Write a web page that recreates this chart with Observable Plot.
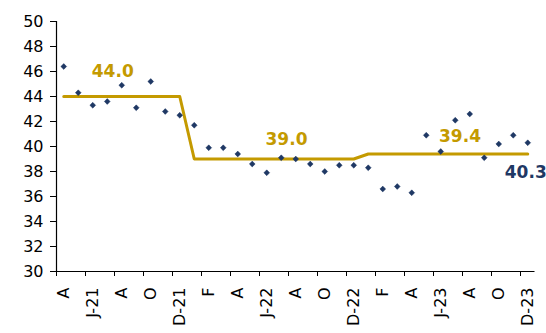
<!DOCTYPE html>
<html>
<head>
<meta charset="utf-8">
<script src="https://cdn.jsdelivr.net/npm/d3@7"></script>
<script src="https://cdn.jsdelivr.net/npm/@observablehq/plot@0.6"></script>
<style>
  html, body { margin: 0; padding: 0; background: #fff; }
</style>
</head>
<body>
<div id="chart"></div>
<script>
// Months from Apr 2021 to Dec 2023
const months = [
  "2021-04","2021-05","2021-06","2021-07","2021-08","2021-09","2021-10","2021-11","2021-12",
  "2022-01","2022-02","2022-03","2022-04","2022-05","2022-06","2022-07","2022-08","2022-09","2022-10","2022-11","2022-12",
  "2023-01","2023-02","2023-03","2023-04","2023-05","2023-06","2023-07","2023-08","2023-09","2023-10","2023-11","2023-12"
];
// Monthly values (diamond markers)
const values = [
  46.4, 44.3, 43.3, 43.6, 44.9, 43.1, 45.2, 42.8, 42.5,
  41.7, 39.9, 39.9, 39.4, 38.6, 37.9, 39.1, 39.0, 38.6, 38.0, 38.5, 38.5,
  38.3, 36.6, 36.8, 36.3, 40.9, 39.6, 42.1, 42.6, 39.1, 40.2, 40.9, 40.3
];
// Annual averages (gold step line)
const years = ["2021", "2022", "2023"];
const yearAvg = [44.0, 39.0, 39.4];
// Category-axis labels (every second month)
const tickLabels = ["A","J-21","A","O","D-21","F","A","J-22","A","O","D-22","F","A","J-23","A","O","D-23"];
const yTicks = [30, 32, 34, 36, 38, 40, 42, 44, 46, 48, 50];

const gold = "#C49A00";
const navy = "#1F3864";

const data = months.map((m, i) => ({
  i,
  month: m,
  value: values[i],
  avg: yearAvg[years.indexOf(m.slice(0, 4))]
}));
const yearIdx = years.map(y => {
  const idx = data.filter(d => d.month.startsWith(y)).map(d => d.i);
  return (idx[0] + idx[idx.length - 1]) / 2;
});
const n = months.length;

const chart = Plot.plot({
  width: 546,
  height: 333,
  marginLeft: 56,
  marginRight: 11.5,
  marginTop: 21,
  marginBottom: 62,
  style: { fontFamily: "DejaVu Sans, Verdana, sans-serif", fontSize: "16px", color: "#000", background: "#fff", overflow: "visible" },
  x: { type: "linear", domain: [-0.5, n - 0.5], axis: null, label: null },
  y: { domain: [30, 50], axis: null, label: null },
  marks: [
    Plot.axisY({ ticks: yTicks, tickSize: 6, tickPadding: 7, stroke: "#000", fill: "#000", fontSize: 16, label: null }),
    Plot.ruleX([-0.5], { stroke: "#000", strokeWidth: 1.2 }),
    Plot.ruleY([30], { stroke: "#000", strokeWidth: 1.2 }),
    Plot.axisX({ ticks: d3.range(-0.5, n - 1, 2), tickSize: 5, tickFormat: () => "", stroke: "#000", label: null }),
    Plot.axisX({ ticks: d3.range(0, n, 2), tickSize: 0, tickPadding: 16, tickRotate: -90,
                 tickFormat: d => tickLabels[d / 2], fill: "#000", fontSize: 16, label: null }),
    Plot.line(data, { x: "i", y: "avg", stroke: gold, strokeWidth: 3 }),
    Plot.dot(data, { x: "i", y: "value", symbol: "diamond2", r: 2.6, fill: navy, stroke: navy, strokeWidth: 0.5 }),
    Plot.text([0], { x: () => yearIdx[0], y: () => yearAvg[0], text: () => yearAvg[0].toFixed(1),
                     fill: gold, fontWeight: "bold", fontSize: 17, dx: -9, dy: -25 }),
    Plot.text([1], { x: () => yearIdx[1], y: () => yearAvg[1], text: () => yearAvg[1].toFixed(1),
                     fill: gold, fontWeight: "bold", fontSize: 17, dx: 12.5, dy: -19.5 }),
    Plot.text([2], { x: () => yearIdx[2], y: () => yearAvg[2], text: () => yearAvg[2].toFixed(1),
                     fill: gold, fontWeight: "bold", fontSize: 17, dx: 12, dy: -17.5 }),
    Plot.text([data[n - 1]], { x: "i", y: "value", text: d => d.value.toFixed(1),
                     fill: navy, fontWeight: "bold", fontSize: 17, dx: -2, dy: 30 })
  ]
});
document.getElementById("chart").append(chart);
</script>
</body>
</html>
